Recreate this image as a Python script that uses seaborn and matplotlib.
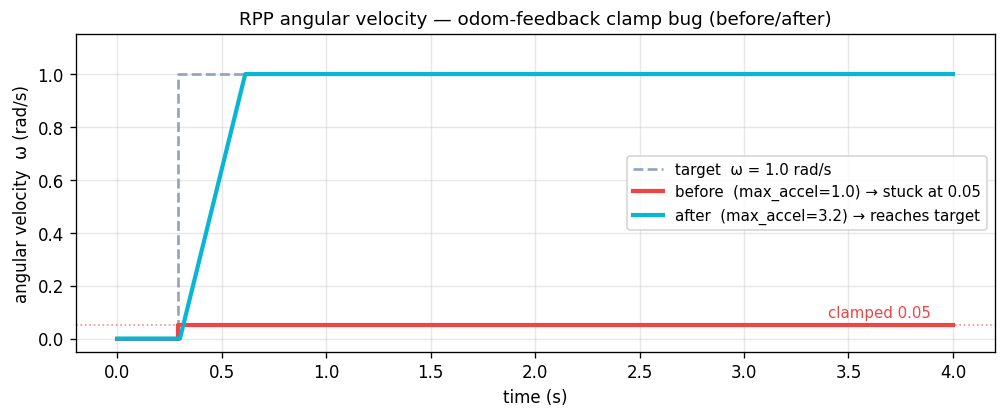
import numpy as np
import pandas as pd
import matplotlib
matplotlib.use("Agg")
import matplotlib.pyplot as plt
import seaborn as sns

# key points of each trace (time in s, omega in rad/s)
target_t = [0.0, 0.29, 0.29, 4.0]
target_w = [0.0, 0.0, 1.0, 1.0]

before_t = [0.0, 0.29, 0.29, 4.0]
before_w = [0.0, 0.0, 0.05, 0.05]

after_t = [0.0, 0.3, 0.6125, 4.0]
after_w = [0.0, 0.0, 1.0, 1.0]

clamp_level = 0.05

c_target = "#94a3b8"
c_before = "#ef4444"
c_after = "#06b6d4"

fig, ax = plt.subplots(figsize=(8.39, 3.49), dpi=120)
fig.subplots_adjust(left=0.075, right=0.988, top=0.916, bottom=0.158)

# estimator=None so repeated x values (the steps) are drawn as-is
sns.lineplot(x=target_t, y=target_w, ax=ax, color=c_target, lw=1.6,
             linestyle="--", sort=False, estimator=None,
             label="target  ω = 1.0 rad/s")
sns.lineplot(x=before_t, y=before_w, ax=ax, color=c_before, lw=2.5,
             sort=False, estimator=None,
             label="before  (max_accel=1.0) → stuck at 0.05")
sns.lineplot(x=after_t, y=after_w, ax=ax, color=c_after, lw=2.5,
             sort=False, estimator=None,
             label="after  (max_accel=3.2) → reaches target")

ax.axhline(clamp_level, color=c_before, lw=1, ls=":", alpha=0.6)
ax.text(3.4, clamp_level + 0.03, "clamped 0.05", color=c_before, fontsize=9)

ax.set_xlim(-0.2, 4.2)
ax.set_ylim(-0.05, 1.15)
ax.set_xticks(np.arange(0, 4.01, 0.5))
ax.set_yticks(np.arange(0, 1.01, 0.2))
ax.grid(True, alpha=0.3)
ax.set_xlabel("time (s)")
ax.set_ylabel("angular velocity  ω (rad/s)")
ax.set_title("RPP angular velocity — odom-feedback clamp bug (before/after)", fontsize=11)
ax.legend(loc="center right", fontsize=9)

fig.savefig("out.png", dpi=120)
